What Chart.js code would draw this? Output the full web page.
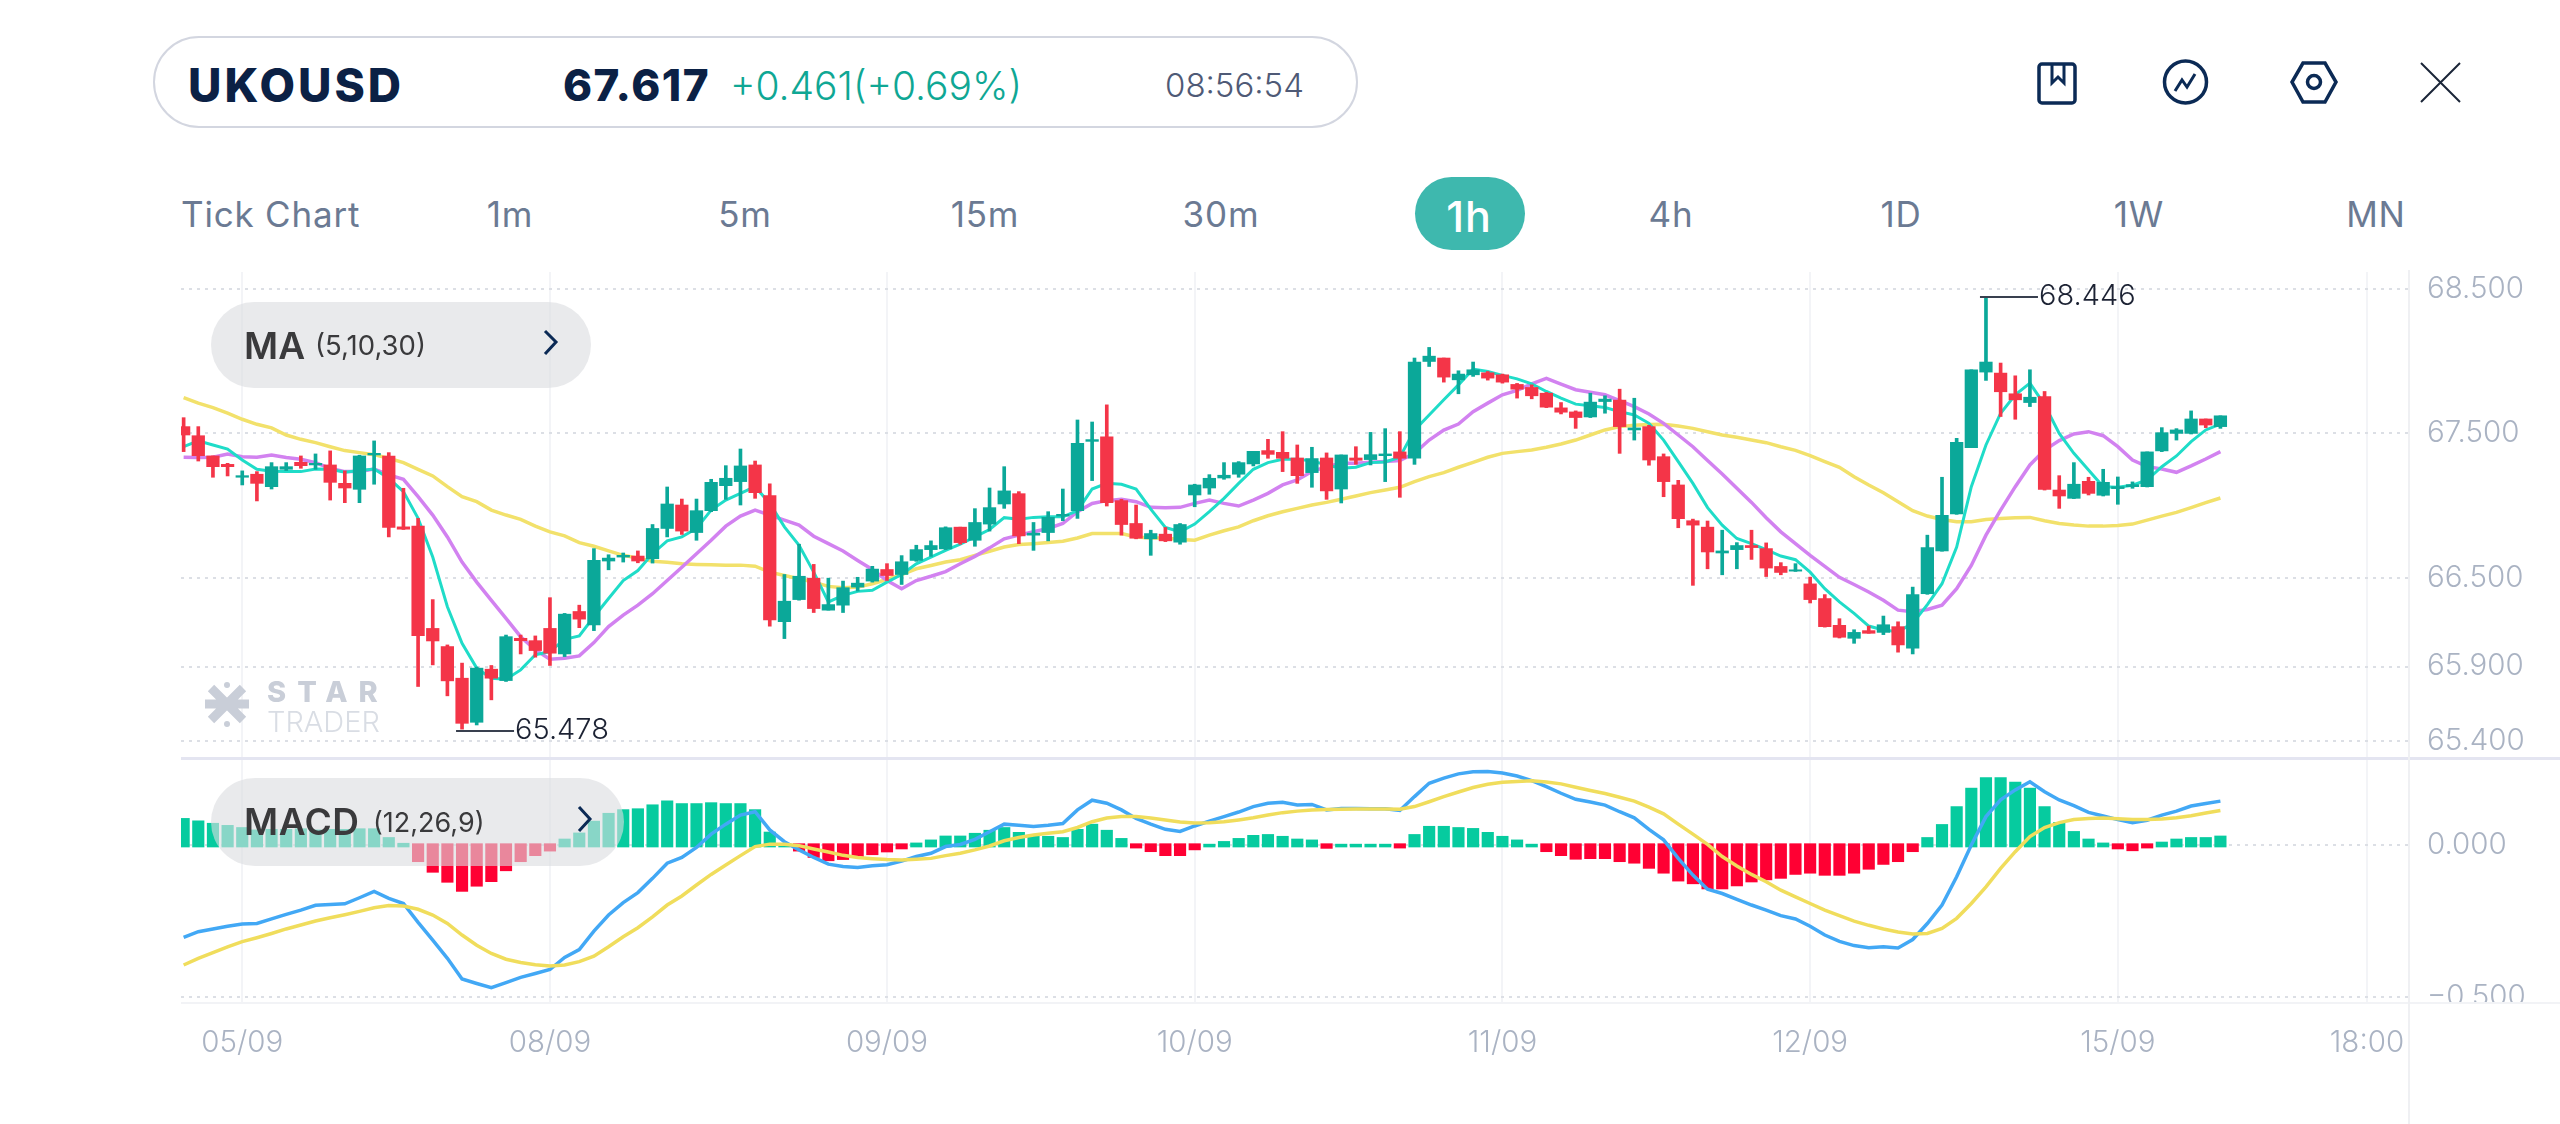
<!DOCTYPE html>
<html>
<head>
<meta charset="utf-8">
<title>UKOUSD 1h</title>
<script src="https://cdn.jsdelivr.net/npm/chart.js@4"></script>
<style>
  html, body { margin: 0; padding: 0; background: #fff; width: 2560px; height: 1124px; overflow: hidden; }
  body { position: relative; font-family: "Inter", sans-serif; }
  canvas { position: absolute; display: block; }
  .t { position: absolute; white-space: nowrap; line-height: 1; transform: translateY(-50%); }
  .c { position: absolute; white-space: nowrap; line-height: 1; transform: translate(-50%, -50%); color: #6b7a93; font-size: 35px; font-weight: 400; letter-spacing: .8px; }
  .box { position: absolute; box-sizing: border-box; }
  svg { position: absolute; overflow: visible; }
</style>
</head>
<body>
<canvas id="priceChart" width="2379" height="485" style="left:181px;top:272px"></canvas>
<canvas id="macdChart" width="2379" height="364" style="left:181px;top:760px"></canvas>

<div class="box" style="left:181px;top:757px;width:2379px;height:3px;background:#e4e5f1"></div>
<div class="box" style="left:181px;top:1002px;width:2379px;height:2px;background:#f2f3f6"></div>
<div class="box" style="left:2408px;top:270px;width:2px;height:854px;background:#eff0f3"></div>

<!-- quote header -->
<div class="box" style="left:153px;top:36px;width:1205px;height:92px;border:2px solid #d3d6e0;border-radius:46px"></div>
<div class="t" style="left:188px;top:85px;font-size:46px;font-weight:800;color:#0b2145;letter-spacing:3px">UKOUSD</div>
<div class="t" style="left:563px;top:85px;font-size:44px;font-weight:800;color:#0b2145;letter-spacing:1.5px">67.617</div>
<div class="t" style="left:730px;top:85px;font-size:39px;font-weight:300;color:#0fa794">+0.461(+0.69%)</div>
<div class="t" style="left:1165px;top:85px;font-size:33px;font-weight:300;color:#4f5a76">08:56:54</div>

<svg style="left:0;top:0" width="2560" height="130" fill="none" stroke="#0b2a55" stroke-width="3.5">
  <rect x="2039" y="64" width="36" height="39" rx="3"/>
  <path d="M2052 64v19l6-6 6 6V64" stroke-width="3"/>
  <circle cx="2185.500" cy="82" r="21"/>
  <path d="M2175 91l7-11 5 7 8-13" stroke-width="3"/>
  <path d="M2303 63h22l11 19-11 20h-22l-11-20z"/>
  <circle cx="2314" cy="82" r="6.500"/>
  <path d="M2421 63l39 39M2460 63l-39 39" stroke="#1a2538" stroke-width="2"/>
</svg>

<!-- timeframe tabs -->
<div class="t" style="left:181px;top:214px;font-size:35px;color:#6b7a93;letter-spacing:.8px">Tick Chart</div>
<div class="c" style="left:510px;top:214px">1m</div>
<div class="c" style="left:745px;top:214px">5m</div>
<div class="c" style="left:985px;top:214px">15m</div>
<div class="c" style="left:1221px;top:214px">30m</div>
<div class="box" style="left:1415px;top:177px;width:110px;height:73px;border-radius:37px;background:#3eb8ae"></div>
<div class="c" style="left:1469px;top:216px;color:#fff;font-size:43px;font-weight:500">1h</div>
<div class="c" style="left:1671px;top:214px">4h</div>
<div class="c" style="left:1901px;top:214px">1D</div>
<div class="c" style="left:2139px;top:214px">1W</div>
<div class="c" style="left:2376px;top:214px">MN</div>

<!-- indicator pills -->
<div class="box" style="left:211px;top:302px;width:380px;height:86px;border-radius:43px;background:rgba(219,221,224,.61)"></div>
<div class="t" style="left:244px;top:345px;font-size:37px;font-weight:600;color:#3a3a3c">MA</div>
<div class="t" style="left:315px;top:346px;font-size:27.500px;color:#3a3a3c">(5,10,30)</div>
<div class="box" style="left:211px;top:778px;width:413px;height:88px;border-radius:44px;background:rgba(219,221,224,.61)"></div>
<div class="t" style="left:244px;top:821px;font-size:37px;font-weight:600;color:#3a3a3c;letter-spacing:.5px">MACD</div>
<div class="t" style="left:373px;top:822px;font-size:27px;color:#3a3a3c">(12,26,9)</div>
<svg style="left:0;top:0" width="2560" height="900" fill="none" stroke="#0b2a55" stroke-width="3">
  <path d="M545 331l11 11-11 12"/>
  <path d="M579 807l11 12-11 12"/>
</svg>

<!-- watermark -->
<svg style="left:0;top:0" width="300" height="760" fill="none" stroke="#c9ced8" stroke-width="9">
  <path d="M211 688l32 32M243 688l-32 32M205 704h44"/>
  <circle cx="227" cy="685" r="3" fill="#c9ced8" stroke="none"/>
  <circle cx="227" cy="724" r="3" fill="#c9ced8" stroke="none"/>
</svg>
<div class="t" style="left:267px;top:691px;font-size:29px;font-weight:800;color:#c9ced8;letter-spacing:11px">STAR</div>
<div class="t" style="left:267px;top:721px;font-size:29px;font-weight:300;color:#d9dde4">TRADER</div>

<script>
// Hourly UKOUSD candles, oldest first
const opens = [
  67.542,67.479,67.339,67.281,67.192,67.213,67.127,67.247,67.295,67.277,
  67.277,67.150,67.109,67.346,67.339,66.851,66.856,66.158,66.035,65.821,
  65.524,65.882,65.805,66.091,66.075,66.158,65.985,66.273,66.181,66.617,
  66.644,66.651,66.633,66.840,67.001,66.812,66.962,67.134,67.162,67.277,
  67.065,66.204,66.354,66.500,66.282,66.316,66.439,66.480,66.559,66.525,
  66.621,66.695,66.700,66.849,66.759,66.870,67.008,67.079,66.794,66.812,
  66.925,66.962,67.440,67.472,67.031,66.874,66.769,66.801,66.746,67.070,
  67.118,67.187,67.213,67.284,67.376,67.364,67.325,67.224,67.325,67.111,
  67.325,67.314,67.341,67.367,67.323,67.995,68.019,67.867,67.902,67.916,
  67.902,67.835,67.814,67.774,67.672,67.644,67.609,67.716,67.726,67.519,
  67.542,67.334,67.139,66.893,66.849,66.672,66.695,66.723,66.702,66.580,
  66.548,66.461,66.361,66.179,66.091,66.143,66.131,66.170,66.024,66.394,
  66.686,66.939,67.397,67.921,67.914,67.770,67.709,67.751,67.104,67.047,
  67.164,67.068,67.114,67.127,67.127,67.374,67.495,67.495,67.595,67.542
];
const highs = [
  67.604,67.542,67.339,67.288,67.236,67.231,67.293,67.293,67.339,67.353,
  67.374,67.236,67.344,67.443,67.362,67.116,66.909,66.354,66.046,65.923,
  65.896,65.907,66.113,66.113,66.107,66.367,66.260,66.316,66.702,66.660,
  66.672,66.686,66.867,67.125,67.042,67.042,67.178,67.272,67.387,67.304,
  67.146,66.525,66.732,66.594,66.500,66.480,66.506,66.581,66.599,66.654,
  66.725,66.755,66.851,66.849,66.976,67.118,67.265,67.093,66.881,66.955,
  67.111,67.588,67.574,67.693,67.040,67.001,66.828,66.847,66.874,67.144,
  67.210,67.293,67.300,67.371,67.454,67.507,67.415,67.399,67.360,67.346,
  67.403,67.502,67.528,67.507,68.019,68.093,68.019,67.930,67.991,67.925,
  67.907,67.842,67.832,67.779,67.709,67.651,67.774,67.756,67.802,67.739,
  67.551,67.353,67.171,66.904,66.891,66.828,66.743,66.828,66.741,66.606,
  66.599,66.507,66.388,66.224,66.149,66.174,66.242,66.203,66.439,66.794,
  67.192,67.461,67.937,68.446,67.984,67.895,67.937,67.786,67.203,67.293,
  67.192,67.247,67.194,67.160,67.367,67.535,67.528,67.651,67.595,67.617
];
const lows = [
  67.369,67.304,67.192,67.201,67.139,67.029,67.111,67.238,67.254,67.247,
  67.035,67.017,67.017,67.144,66.782,66.833,65.765,65.911,65.702,65.478,
  65.506,65.675,65.799,65.985,65.963,65.907,65.967,66.163,66.143,66.557,
  66.610,66.605,66.603,66.782,66.799,66.759,66.955,67.040,67.001,67.047,
  66.174,66.089,66.350,66.266,66.282,66.266,66.412,66.473,66.484,66.457,
  66.615,66.649,66.695,66.732,66.718,66.822,66.978,66.736,66.690,66.755,
  66.893,66.909,67.169,66.994,66.794,66.769,66.656,66.750,66.732,66.989,
  67.075,67.178,67.192,67.270,67.323,67.231,67.150,67.123,67.040,67.015,
  67.282,67.277,67.162,67.054,67.281,67.960,67.851,67.770,67.891,67.865,
  67.844,67.740,67.735,67.674,67.630,67.530,67.605,67.635,67.357,67.449,
  67.275,67.058,66.845,66.451,66.564,66.523,66.564,66.628,66.511,66.523,
  66.546,66.331,66.167,66.093,66.057,66.125,66.116,65.997,65.985,66.390,
  66.684,66.937,67.397,67.863,67.612,67.593,67.681,67.104,66.978,67.045,
  67.070,67.063,67.006,67.116,67.125,67.369,67.449,67.491,67.535,67.530
];
const closes = [
  67.484,67.341,67.265,67.265,67.203,67.150,67.265,67.265,67.272,67.288,
  67.157,67.118,67.339,67.357,66.847,66.835,66.109,66.073,65.803,65.517,
  65.889,65.821,66.102,66.075,66.008,65.990,66.255,66.221,66.621,66.637,
  66.656,66.617,66.840,67.008,66.822,66.962,67.157,67.185,67.270,67.086,
  66.215,66.343,66.513,66.293,66.320,66.435,66.466,66.562,66.518,66.612,
  66.695,66.723,66.845,66.743,66.881,66.983,67.098,66.789,66.808,66.916,
  66.937,67.426,67.452,67.017,66.867,66.773,66.805,66.755,66.867,67.139,
  67.185,67.206,67.293,67.371,67.350,67.323,67.203,67.321,67.098,67.346,
  67.309,67.348,67.353,67.323,67.991,68.032,67.886,67.907,67.937,67.879,
  67.851,67.802,67.756,67.677,67.642,67.605,67.712,67.733,67.542,67.533,
  67.311,67.162,66.907,66.863,66.679,66.686,66.723,66.709,66.569,66.539,
  66.557,66.354,66.170,66.098,66.131,66.125,66.183,66.046,66.388,66.709,
  66.930,67.433,67.937,67.991,67.784,67.728,67.746,67.109,67.063,67.144,
  67.081,67.157,67.127,67.141,67.367,67.500,67.519,67.595,67.553,67.617
];

// Moving averages (5, 10, 30)
const ma5 = [
  67.403,67.443,67.415,67.387,67.311,67.247,67.233,67.231,67.231,67.249,
  67.247,67.226,67.238,67.249,67.185,67.093,66.909,66.644,66.305,66.057,
  65.889,65.821,65.814,65.877,65.979,66.001,66.084,66.107,66.237,66.361,
  66.484,66.552,66.667,66.755,66.782,66.840,66.966,67.035,67.081,67.127,
  67.012,66.851,66.725,66.541,66.338,66.383,66.410,66.417,66.473,66.525,
  66.598,66.644,66.690,66.732,66.782,66.833,66.914,66.904,66.916,66.920,
  66.920,66.962,67.111,67.150,67.144,67.111,66.973,66.847,66.817,66.870,
  66.955,67.047,67.150,67.247,67.293,67.316,67.316,67.305,67.277,67.254,
  67.261,67.293,67.298,67.330,67.518,67.623,67.728,67.832,67.942,67.925,
  67.898,67.874,67.839,67.786,67.739,67.698,67.686,67.674,67.646,67.623,
  67.565,67.449,67.300,67.150,66.983,66.863,66.771,66.736,66.695,66.651,
  66.626,66.541,66.428,66.338,66.260,66.174,66.147,66.136,66.192,66.320,
  66.462,66.713,67.127,67.415,67.635,67.763,67.844,67.693,67.495,67.357,
  67.242,67.127,67.123,67.137,67.173,67.265,67.339,67.438,67.519,67.560
];
const ma10 = [
  67.330,67.328,67.330,67.353,67.334,67.330,67.346,67.328,67.316,67.293,
  67.254,67.231,67.231,67.249,67.208,67.178,67.058,66.932,66.782,66.610,
  66.473,66.349,66.226,66.102,66.012,65.949,65.956,65.972,66.062,66.170,
  66.248,66.316,66.394,66.484,66.575,66.667,66.759,66.856,66.925,66.966,
  66.932,66.897,66.863,66.787,66.736,66.686,66.621,66.559,66.484,66.428,
  66.484,66.513,66.545,66.598,66.649,66.707,66.769,66.794,66.817,66.840,
  66.874,66.955,67.012,67.031,67.040,67.024,66.985,66.983,66.985,67.012,
  67.035,67.012,66.994,67.035,67.081,67.139,67.173,67.231,67.265,67.288,
  67.288,67.295,67.300,67.307,67.357,67.449,67.518,67.560,67.646,67.705,
  67.763,67.793,67.839,67.877,67.837,67.798,67.781,67.763,67.723,67.681,
  67.630,67.565,67.484,67.403,67.307,67.215,67.116,67.019,66.914,66.817,
  66.736,66.656,66.580,66.506,66.457,66.406,66.349,66.282,66.271,66.287,
  66.316,66.428,66.587,66.794,66.966,67.127,67.277,67.380,67.445,67.491,
  67.507,67.479,67.403,67.311,67.265,67.249,67.226,67.270,67.318,67.369
];
const ma30 = [
  67.744,67.705,67.674,67.635,67.593,67.558,67.533,67.484,67.454,67.431,
  67.403,67.376,67.362,67.348,67.323,67.293,67.247,67.201,67.127,67.058,
  67.024,66.966,66.932,66.902,66.856,66.817,66.789,66.743,66.718,66.686,
  66.656,66.637,66.615,66.608,66.598,66.594,66.592,66.589,66.589,66.582,
  66.541,66.518,66.496,66.473,66.444,66.435,66.439,66.462,66.491,66.525,
  66.564,66.587,66.610,66.626,66.656,66.684,66.713,66.730,66.736,66.743,
  66.752,66.775,66.805,66.805,66.805,66.782,66.775,66.775,66.764,66.759,
  66.794,66.824,66.851,66.893,66.927,66.955,66.978,67.001,67.019,67.040,
  67.063,67.086,67.104,67.123,67.162,67.196,67.224,67.261,67.295,67.330,
  67.357,67.369,67.380,67.399,67.422,67.449,67.484,67.519,67.542,67.551,
  67.556,67.558,67.547,67.530,67.507,67.484,67.468,67.449,67.431,67.403,
  67.378,67.341,67.300,67.261,67.196,67.139,67.086,67.024,66.962,66.925,
  66.902,66.886,66.886,66.902,66.909,66.914,66.916,66.893,66.874,66.863,
  66.856,66.856,66.861,66.870,66.897,66.925,66.950,66.983,67.017,67.049
];

// MACD (12, 26, 9)
const macdHist = [
  .089,.081,.073,.066,.059,.051,.053,.053,.055,.051,
  .053,.053,.055,.055,.026,.007,-.054,-.089,-.122,-.152,
  -.135,-.120,-.084,-.054,-.034,-.019,.021,.041,.080,.106,
  .118,.121,.134,.147,.138,.138,.141,.138,.138,.118,
  .044,.006,-.019,-.040,-.051,-.047,-.037,-.031,-.022,-.012,
  .008,.018,.031,.031,.040,.050,.059,.043,.034,.030,
  .026,.053,.070,.050,.023,-.009,-.021,-.034,-.034,-.015,
  .004,.013,.023,.033,.036,.030,.021,.018,-.010,.004,
  .004,.004,.004,-.009,.036,.063,.063,.059,.056,.043,
  .030,.018,.004,-.021,-.034,-.046,-.044,-.044,-.054,-.059,
  -.076,-.092,-.118,-.127,-.144,-.144,-.134,-.121,-.114,-.109,
  -.096,-.092,-.099,-.099,-.092,-.079,-.063,-.054,-.021,.026,
  .069,.128,.189,.224,.224,.209,.189,.128,.076,.046,
  .021,.008,-.012,-.018,-.009,.011,.021,.026,.026,.031
];
const dif = [
  -.304,-.285,-.276,-.267,-.260,-.258,-.243,-.228,-.214,-.198,
  -.195,-.193,-.173,-.152,-.175,-.192,-.254,-.313,-.373,-.441,
  -.456,-.470,-.453,-.436,-.423,-.410,-.370,-.344,-.283,-.230,
  -.189,-.156,-.109,-.059,-.040,-.007,.037,.070,.100,.111,
  .051,.012,-.015,-.040,-.062,-.070,-.073,-.067,-.064,-.052,
  -.037,-.026,-.004,.003,.020,.045,.070,.066,.062,.066,
  .072,.117,.149,.139,.117,.089,.070,.053,.046,.064,
  .080,.095,.110,.128,.139,.142,.133,.135,.117,.122,
  .122,.121,.121,.115,.161,.205,.222,.236,.243,.244,
  .239,.229,.214,.194,.172,.152,.143,.133,.111,.091,
  .053,.018,-.043,-.098,-.145,-.159,-.178,-.197,-.214,-.232,
  -.243,-.267,-.296,-.317,-.331,-.338,-.335,-.339,-.311,-.258,
  -.197,-.104,.001,.095,.150,.183,.210,.177,.150,.131,
  .109,.097,.085,.075,.083,.100,.113,.130,.138,.146
];
const dea = [
  -.395,-.373,-.354,-.335,-.318,-.305,-.291,-.276,-.263,-.250,
  -.239,-.229,-.218,-.206,-.199,-.200,-.211,-.230,-.258,-.296,
  -.330,-.357,-.376,-.387,-.394,-.398,-.395,-.384,-.366,-.335,
  -.302,-.272,-.236,-.197,-.167,-.131,-.096,-.065,-.034,-.004,
  .004,.004,-.001,-.012,-.022,-.033,-.040,-.044,-.047,-.048,
  -.046,-.043,-.034,-.026,-.015,-.002,.015,.026,.034,.040,
  .045,.059,.078,.090,.095,.095,.090,.084,.077,.074,
  .075,.078,.084,.091,.100,.108,.113,.117,.118,.119,
  .120,.120,.120,.119,.128,.144,.161,.176,.191,.202,
  .208,.211,.213,.209,.203,.192,.181,.171,.159,.146,
  .126,.104,.070,.037,.003,-.037,-.068,-.096,-.120,-.148,
  -.170,-.192,-.214,-.232,-.250,-.264,-.276,-.286,-.293,-.291,
  -.274,-.241,-.192,-.137,-.076,-.021,.029,.059,.075,.085,
  .089,.090,.088,.085,.085,.087,.091,.098,.107,.115
];

// Axis ticks
const priceTicks = [68.5, 67.5, 66.5, 65.9, 65.4];
const macdTicks = [0, -0.5];
const timeTicks = [4, 25, 48, 69, 90, 111, 132, 149];
const timeLabels = ['05/09', '08/09', '09/09', '10/09', '11/09', '12/09', '15/09', '18:00'];

// Candles flagged with their extreme price
const lowestCandle = 19;
const highestCandle = 123;

const UP = '#0ba899', DOWN = '#f43548';
const AXIS_TEXT = '#aab3c3';
const TICK_FONT = { family: 'Inter', size: 29.5, weight: '300' };
const candleColors = closes.map((c, i) => (c >= opens[i] ? UP : DOWN));
const series = (values) => values.map((v, i) => ({ x: i, y: v }));
const range = (a, b) => a.map((v, i) => ({ x: i, y: [v, b[i]] }));

// Fixed-size axes, so both panels keep the same horizontal extent
function fixedX(height, withLabels) {
  return {
    type: 'linear', min: -0.18, max: 151.87, bounds: 'data', offset: false,
    afterBuildTicks: (s) => { s.ticks = timeTicks.map((value) => ({ value })); },
    afterFit: (s) => { s.height = height; s.paddingLeft = s.paddingRight = s.paddingTop = s.paddingBottom = 0; },
    grid: { color: '#f3f4f7', lineWidth: 2, drawTicks: false, offset: false },
    border: { display: false },
    ticks: {
      display: withLabels, z: 1, autoSkip: false, maxRotation: 0, minRotation: 0, padding: 22,
      color: AXIS_TEXT, font: TICK_FONT,
      callback: (v) => timeLabels[timeTicks.indexOf(v)] || ''
    }
  };
}
function fixedY(extra, tickValues) {
  return Object.assign({
    position: 'right', bounds: 'data', offset: false,
    afterBuildTicks: (s) => { s.ticks = tickValues.map((value) => ({ value })); },
    afterFit: (s) => { s.width = 151; s.paddingLeft = s.paddingRight = s.paddingTop = s.paddingBottom = 0; },
    grid: { color: '#dcdfe5', lineWidth: 2, drawTicks: false },
    border: { display: false, dash: [3, 5] },
    ticks: {
      autoSkip: false, padding: 18, color: AXIS_TEXT,
      font: TICK_FONT,
      callback: (v) => (v < 0 ? '\u2212' + Math.abs(v).toFixed(3) : v.toFixed(3))
    }
  }, extra);
}

const basePlugins = { legend: { display: false }, tooltip: { enabled: false } };

// Leader line and value for the highest and lowest candles
const extremeLabels = {
  id: 'extremeLabels',
  afterDatasetsDraw(chart) {
    const { ctx, scales: { x, y } } = chart;
    const marks = [[highestCandle, highs[highestCandle], 0], [lowestCandle, lows[lowestCandle], 2]];
    ctx.save();
    ctx.font = '300 29px Inter';
    ctx.textBaseline = 'middle';
    ctx.textAlign = 'left';
    for (const [index, value, drop] of marks) {
      const px = x.getPixelForValue(index);
      const py = y.getPixelForValue(value) + drop;
      ctx.strokeStyle = '#39404f';
      ctx.lineWidth = 2;
      ctx.beginPath();
      ctx.moveTo(px - 6, py);
      ctx.lineTo(px + 52, py);
      ctx.stroke();
      ctx.fillStyle = '#1c2233';
      ctx.fillText(value.toFixed(3), px + 53, py - 1);
    }
    ctx.restore();
  }
};

new Chart(document.getElementById('priceChart'), {
  type: 'bar',
  data: {
    datasets: [
      { type: 'bar', data: range(lows, highs), backgroundColor: candleColors, barThickness: 3, grouped: false, order: 2 },
      { type: 'bar', data: range(opens, closes), backgroundColor: candleColors, barThickness: 12.6, grouped: false, order: 1 },
      { type: 'line', data: series(ma30), borderColor: '#f2e16b', borderWidth: 3.5, pointRadius: 0, tension: 0, order: 5 },
      { type: 'line', data: series(ma10), borderColor: '#d282f0', borderWidth: 3.5, pointRadius: 0, tension: 0, order: 4 },
      { type: 'line', data: series(ma5), borderColor: '#1fdcc8', borderWidth: 3, pointRadius: 0, tension: 0, order: 3 }
    ]
  },
  options: {
    responsive: false, animation: false, events: [],
    layout: { padding: 0 },
    plugins: basePlugins,
    scales: {
      x: fixedX(0, false),
      y: fixedY({ type: 'logarithmic', min: 65.291, max: 68.622 }, priceTicks)
    }
  },
  plugins: [extremeLabels]
});

// The lowest axis label is cut off at the panel's bottom rule
const axisCut = {
  id: 'axisCut',
  beforeDatasetsDraw(chart) {
    const { ctx, chartArea: a } = chart;
    ctx.save();
    ctx.fillStyle = '#fff';
    ctx.fillRect(a.right + 2, a.bottom, chart.width - a.right - 2, 40);
    ctx.restore();
  }
};

const BAR_BASE = 0.0055;
new Chart(document.getElementById('macdChart'), {
  type: 'bar',
  data: {
    datasets: [
      { type: 'bar', data: series(macdHist).filter((p) => p.y > 0), base: -BAR_BASE, backgroundColor: '#06cb9f', barThickness: 11.5, grouped: false, order: 3 },
      { type: 'bar', data: series(macdHist).filter((p) => p.y < 0), base: BAR_BASE, backgroundColor: '#ff0033', barThickness: 11.5, grouped: false, order: 3 },
      { type: 'line', data: series(dea), borderColor: '#f0dd5c', borderWidth: 3.5, pointRadius: 0, tension: 0, order: 1 },
      { type: 'line', data: series(dif), borderColor: '#42a8f5', borderWidth: 3.5, pointRadius: 0, tension: 0, order: 2 }
    ]
  },
  options: {
    responsive: false, animation: false, events: [],
    layout: { padding: 0 },
    plugins: basePlugins,
    scales: {
      x: fixedX(121, true),
      y: fixedY({ type: 'linear', min: -0.5205, max: 0.2818 }, macdTicks)
    }
  },
  plugins: [axisCut]
});
</script>
</body>
</html>
